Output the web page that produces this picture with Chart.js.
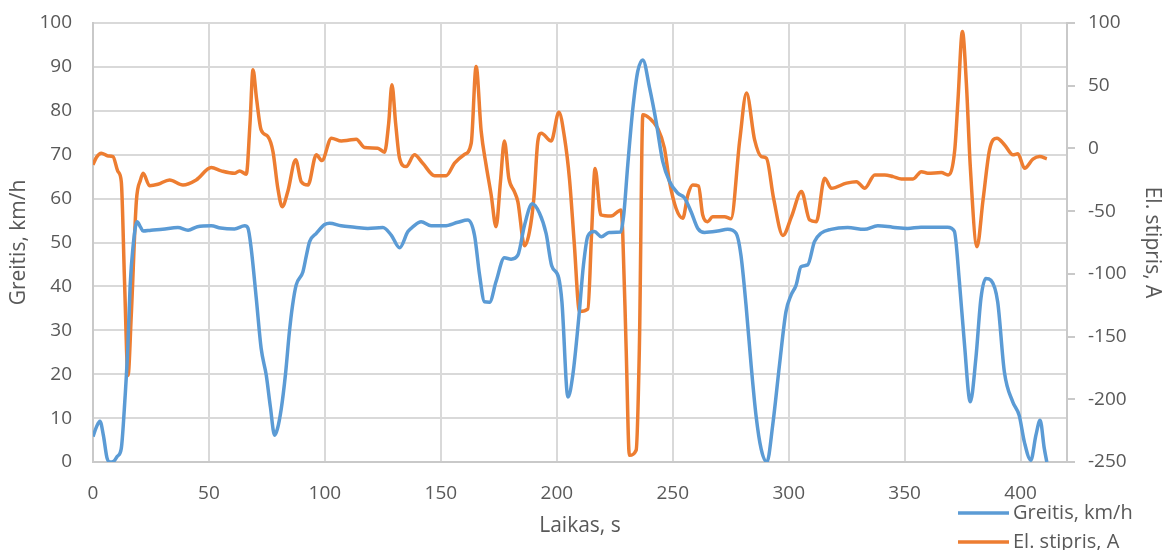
<!DOCTYPE html>
<html>
<head>
<meta charset="utf-8">
<script src="https://cdn.jsdelivr.net/npm/chart.js@4"></script>
<style>
  html, body { margin: 0; padding: 0; background: #ffffff; }
  #wrap { width: 1165px; height: 550px; }
</style>
</head>
<body>
<div id="wrap"><canvas id="c" width="1165" height="550"></canvas></div>
<script>
// Speed trace (time in s, speed in km/h)
const speedTime = [0, 1.5, 3, 4.5, 6, 7.3, 9, 10.5, 12.2, 13.5, 15, 16, 17.2, 19, 20.5, 21.6, 25, 30, 36.6, 41, 45, 51, 55, 61, 65.4, 66.8, 68.2, 70.4, 72.5, 74.7, 76.5, 78.3, 79.5, 81.2, 83, 84.7, 86, 87.6, 90.5, 92, 93.4, 96.3, 99.9, 102, 107, 112.8, 118.5, 125, 128.6, 132.2, 135.8, 138, 141.5, 145.8, 151.6, 157.3, 161.6, 164.5, 166.7, 168.8, 171, 173.8, 177.4, 180.3, 183.2, 186.1, 189.4, 192.5, 195.4, 197.8, 200.8, 202.2, 204.8, 206.9, 209.5, 211.5, 213.4, 216.2, 219.2, 222.5, 227.5, 228.8, 230.6, 232.8, 234.9, 237.1, 240, 242.8, 245.7, 248.6, 252.2, 255, 257.9, 260.8, 263.7, 269.4, 273.7, 277.3, 279.4, 281.6, 283.8, 285.9, 288.1, 290.6, 293.1, 296, 298.8, 301, 303.2, 305.3, 308.2, 311.1, 313.9, 318.2, 325.4, 332.6, 338.4, 344.8, 351.3, 357, 368.5, 371.4, 373.6, 375.7, 378.3, 380.7, 382.9, 385, 387.2, 390.1, 393, 396.6, 399.4, 401.6, 404.4, 406.6, 408.4, 410.2, 411.3];
const speedKmh = [5.8, 8, 9.3, 6, 1, 0, 0.2, 1.3, 3.1, 12, 26, 40, 48.7, 54.7, 53.5, 52.6, 52.8, 53, 53.4, 52.8, 53.6, 53.8, 53.3, 53.1, 53.8, 53.3, 48.7, 37.3, 25.9, 19.8, 12.5, 6.1, 7.5, 12.2, 20, 29.7, 35.5, 40.3, 43.3, 47, 50.2, 52.1, 54.1, 54.4, 53.8, 53.5, 53.2, 53.4, 51.7, 48.8, 52.5, 53.6, 54.7, 53.8, 53.8, 54.6, 55.1, 51.7, 42.6, 36.5, 36.4, 41.1, 46.5, 46.2, 47.1, 54, 58.8, 56.7, 52, 44.7, 42, 36.5, 14.8, 19.8, 33, 44.9, 51.5, 52.5, 51.3, 52.3, 52.4, 56, 67.7, 80.6, 89, 91.6, 85.2, 77.6, 68.4, 63.9, 61.2, 60.2, 57, 53.2, 52.3, 52.6, 53, 52.1, 47.1, 35.7, 22, 10.6, 3, 0, 8.4, 22, 34.2, 38, 40.3, 44.5, 44.9, 50.2, 52.1, 53, 53.4, 53, 53.8, 53.5, 53.2, 53.5, 53.5, 52.6, 41.1, 27.4, 13.7, 23.6, 37.3, 41.8, 41.4, 36.5, 20.5, 13.7, 10.6, 4.6, 0.4, 6.1, 9.5, 3.1, 0];

// Battery current trace (time in s, current in A)
const currentTime = [0, 1.5, 3.6, 6.5, 8.6, 10.8, 12.2, 13.6, 15.1, 16.5, 18.7, 20.5, 21.6, 24.4, 28, 33, 38.8, 44.5, 51, 55.3, 61, 63.2, 66.1, 67.7, 69, 70.5, 72.5, 75.4, 77.6, 79.7, 81.6, 84, 87.4, 89.8, 92.7, 96.3, 98.7, 102.8, 107.1, 110, 113.5, 117.1, 122.8, 125.7, 127.5, 128.9, 130.5, 132.2, 135, 138.6, 142.2, 147.3, 152.3, 155.9, 160, 163.1, 165.2, 167.4, 169.5, 171.7, 173.8, 175.7, 177.4, 179.3, 181.7, 183.2, 186.1, 188.2, 190.1, 191.8, 193.3, 197.6, 200.9, 203.3, 205.5, 207.5, 209.8, 213.4, 215, 216.5, 219, 223.4, 227.7, 228.4, 229.9, 231.3, 234.2, 235.6, 237.1, 240, 243.5, 246.4, 248.6, 251.4, 254.3, 256.5, 258.6, 261.1, 262.9, 265.1, 267.2, 272.3, 275.1, 278.9, 281.8, 285.3, 288.2, 290.4, 293.5, 297.5, 301.2, 305.5, 309, 311.9, 315.5, 318.4, 324.9, 329.2, 332.8, 337.1, 341.4, 345, 348.6, 353.6, 357.2, 360, 365.8, 368.7, 371.6, 373, 374.9, 376.6, 378.3, 381.2, 383.8, 386.6, 389.8, 393.1, 396.7, 398.8, 401.7, 405.3, 408.2, 411.3];
const currentA = [-13, -7, -3.8, -6, -6.5, -18.5, -26.5, -106, -181, -133, -42, -25, -19.8, -29.7, -28.6, -25.1, -29.1, -25.1, -15.3, -17.9, -19.8, -17.9, -20.5, 20, 62.7, 40, 14.8, 9.5, -2.5, -31.7, -46.4, -34.4, -9.1, -26.5, -29.1, -5.1, -9.7, 8.2, 6, 6.5, 7.4, 0.7, 0.2, -3, 20, 50.7, 20, -7.8, -14.5, -5.1, -11.8, -21.7, -21.7, -11.8, -5, 4.2, 65.3, 13.5, -13.1, -37.1, -62.4, -26.5, 6, -23.7, -34.4, -42.4, -77.6, -66.4, -39.7, 5.5, 12.2, 6, 28.9, 9, -25, -75, -130, -128, -67.5, -16, -53, -53.9, -49, -66, -159.5, -244.7, -240.7, -159, 26.8, 24.1, 16.1, 0.2, -26.5, -47.7, -55.7, -37.1, -29.1, -30, -53, -58.4, -54.4, -54.4, -56, 6.8, 44.1, 6.8, -6.5, -7.8, -40, -69.4, -54.4, -34.4, -57, -58.4, -23.7, -31.7, -27.7, -26.5, -31.7, -21.1, -21.1, -22.5, -24.3, -24.3, -18.5, -19.8, -19.2, -21.1, -1.1, 38.8, 93.3, 52.1, -14.5, -78.4, -41, -1.1, 8.2, 2.8, -5.1, -4.3, -15.8, -8.6, -6.5, -8.3];

// Time axis tick values (axis itself runs to 420 s)
const timeTicks = [0, 50, 100, 150, 200, 250, 300, 350, 400];

const seriesNames = ['Greitis, km/h', 'El. stipris, A'];
const axisTitles = { x: 'Laikas, s', y: 'Greitis, km/h', y1: 'El. stipris, A' };

const toPoints = (xs, ys) => xs.map((x, i) => ({ x, y: ys[i] }));

const TEXT = '#595959';
const GRID = '#D9D9D9';
const AXIS = '#C9C9C9';
const FONT = '"Open Sans", "Liberation Sans", sans-serif';

// Stacked line-sample legend under the plot, right side
const lineLegend = {
  id: 'lineLegend',
  afterDraw(chart, args, opts) {
    const { ctx } = chart;
    ctx.save();
    ctx.font = `${opts.fontSize}px ${FONT}`;
    ctx.textBaseline = 'middle';
    ctx.textAlign = 'left';
    chart.data.datasets.forEach((ds, i) => {
      const y = opts.top + i * opts.rowGap;
      ctx.strokeStyle = ds.borderColor;
      ctx.lineWidth = ds.borderWidth;
      ctx.lineCap = 'butt';
      ctx.beginPath();
      ctx.moveTo(opts.left, y);
      ctx.lineTo(opts.left + opts.sample, y);
      ctx.stroke();
      ctx.fillStyle = TEXT;
      ctx.fillText(ds.label, opts.left + opts.sample + opts.gap, y);
    });
    ctx.restore();
  }
};

// Vertical axes: fixed width, no extra label overflow above/below the plot
const fixVertical = width => s => {
  s.width = width;
  s.paddingTop = 0;
  s.paddingBottom = 0;
};

new Chart(document.getElementById('c'), {
  type: 'line',
  data: {
    datasets: [
      {
        label: seriesNames[0],
        data: toPoints(speedTime, speedKmh),
        yAxisID: 'y',
        borderColor: '#5B9BD5',
        borderWidth: 3.5,
        pointRadius: 0,
        cubicInterpolationMode: 'monotone',
        fill: false
      },
      {
        label: seriesNames[1],
        data: toPoints(currentTime, currentA),
        yAxisID: 'y1',
        borderColor: '#ED7D31',
        borderWidth: 3.5,
        pointRadius: 0,
        cubicInterpolationMode: 'monotone',
        fill: false
      }
    ]
  },
  options: {
    responsive: false,
    animation: false,
    devicePixelRatio: 1,
    layout: { padding: { left: 2, right: 0, top: 23, bottom: 0 } },
    plugins: {
      legend: { display: false },
      tooltip: { enabled: false },
      lineLegend: { left: 958, top: 513, rowGap: 29, sample: 51, gap: 4, fontSize: 20 }
    },
    scales: {
      x: {
        type: 'linear',
        min: 0,
        max: 420,
        ticks: { color: TEXT, font: { family: FONT, size: 19 }, padding: 20, maxRotation: 0 },
        grid: { color: GRID, lineWidth: 2, drawTicks: false },
        border: { color: AXIS, width: 2 },
        title: { display: true, text: axisTitles.x, color: TEXT, font: { family: FONT, size: 21 }, padding: { top: 0, bottom: 11 } },
        afterBuildTicks: s => { s.ticks = timeTicks.map(v => ({ value: v })); },
        afterFit: s => { s.height = 88; }
      },
      y: {
        position: 'left',
        min: 0,
        max: 100,
        ticks: { stepSize: 10, color: TEXT, font: { family: FONT, size: 19 }, padding: 21 },
        grid: { color: GRID, lineWidth: 2, drawTicks: false },
        border: { color: AXIS, width: 2 },
        title: { display: true, text: axisTitles.y, color: TEXT, font: { family: FONT, size: 21 }, padding: { top: 4, bottom: 0 } },
        afterFit: fixVertical(91)
      },
      y1: {
        position: 'right',
        min: -250,
        max: 100,
        ticks: { stepSize: 50, color: TEXT, font: { family: FONT, size: 19 }, padding: 13 },
        grid: { drawOnChartArea: false, drawTicks: true, tickLength: 8, color: AXIS, lineWidth: 2 },
        border: { color: AXIS, width: 2 },
        title: { display: true, text: axisTitles.y1, color: TEXT, font: { family: FONT, size: 21 }, padding: { top: 0, bottom: 0 } },
        afterFit: fixVertical(98)
      }
    }
  },
  plugins: [lineLegend]
});
</script>
</body>
</html>
